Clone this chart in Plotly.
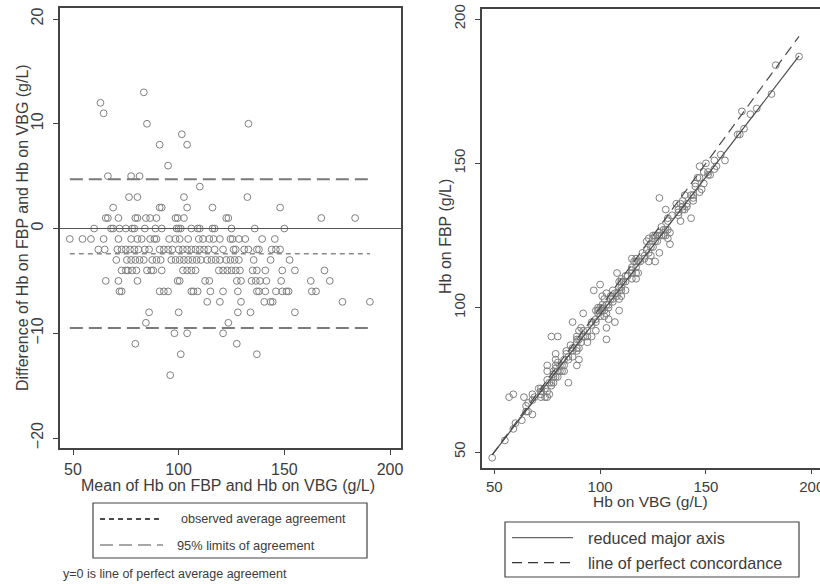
import plotly.graph_objects as go

# ---------------- data ----------------
# Bland-Altman panel: for each difference level (FBP - VBG, g/L) the means (g/L)
diff_levels = [13, 12, 11, 10, 9, 8, 6, 5, 4, 3, 2, 1, 0, -1, -2, -3, -4, -5,
               -6, -7, -8, -9, -10, -11, -12, -14]
means_by_level = [
    [83.5],
    [63],
    [64.5],
    [85, 133],
    [101.5],
    [91, 104],
    [95],
    [66.5, 77.5, 81.5],
    [110],
    [76.5, 80.5, 102.5, 132.5],
    [69, 91, 92, 104, 116, 148],
    [65.5, 66.5, 71.5, 79.5, 80.5, 84.5, 86.5, 89.5, 98.5, 99.5, 102.5, 122.5,
     123.5, 167.5, 183.5],
    [60, 68, 69, 72, 75, 78, 79, 84, 89, 92, 99, 100, 101, 106, 109, 110, 116,
     117, 125, 136, 150],
    [48.5, 54.5, 58.5, 64.5, 71.5, 77.5, 80.5, 82.5, 86.5, 88.5, 89.5, 95.5,
     98.5, 100.5, 104.5, 109.5, 111.5, 114.5, 116.5, 119.5, 124.5, 125.5,
     128.5, 131.5, 139.5, 145.5],
    [62, 65, 71, 73, 75, 77, 79, 81, 84, 86, 91, 93, 95, 97, 100, 102, 104,
     106, 108, 110, 112, 114, 117, 121, 126, 127, 131, 133, 137, 138, 144,
     146, 148],
    [70.5, 75.5, 77.5, 79.5, 81.5, 83.5, 87.5, 89.5, 91.5, 96.5, 98.5, 100.5,
     102.5, 104.5, 106.5, 108.5, 110.5, 113.5, 115.5, 117.5, 119.5, 122.5,
     124.5, 126.5, 128.5, 135.5, 143.5, 152.5],
    [73, 75, 76, 78, 80, 85, 87, 88, 92, 102, 104, 106, 108, 119, 121, 123,
     125, 127, 129, 135, 137, 141, 149, 155, 169],
    [65.5, 71.5, 80.5, 99.5, 100.5, 112.5, 114.5, 127.5, 129.5, 134.5, 136.5,
     138.5, 141.5, 148.5, 162.5, 171.5],
    [72, 73, 91, 93, 95, 106, 107, 109, 115, 121, 128, 137, 138, 141, 146,
     149, 151, 152, 163, 165],
    [113.5, 119.5, 129.5, 140.5, 143.5, 144.5, 177.5, 190.5],
    [86, 100, 128, 134, 155],
    [84.5, 123.5],
    [98, 104, 121],
    [79.5, 127.5],
    [101, 137],
    [96],
]

bias = -2.4          # observed average agreement
loa_upper = 4.7      # 95% limits of agreement
loa_lower = -9.5

# reduced major axis end points (Hb on VBG, Hb on FBP)
rma_vbg = [49, 194]
rma_fbp = [49, 187.2]
# line of perfect concordance
conc_vbg = [49, 194]
conc_fbp = [49, 194]

left_xticks = [50, 100, 150, 200]
left_yticks = [-20, -10, 0, 10, 20]
right_xticks = [50, 100, 150, 200]
right_yticks = [50, 100, 150, 200]

# ---------------- build ----------------
mean_hb, diff_hb = [], []
for d, ms in zip(diff_levels, means_by_level):
    mean_hb += ms
    diff_hb += [d] * len(ms)
vbg = [m - d / 2 for m, d in zip(mean_hb, diff_hb)]
fbp = [m + d / 2 for m, d in zip(mean_hb, diff_hb)]
xmin, xmax = min(mean_hb), max(mean_hb)

W, H = 820, 584
FONT = "Liberation Sans, Arial, sans-serif"
TXT = "#3c3c3c"
MK = dict(symbol="circle-open", size=6.8, color="#808080", line=dict(width=1))

fig = go.Figure()
# left panel
fig.add_trace(go.Scatter(x=mean_hb, y=diff_hb, mode="markers", marker=MK,
                         xaxis="x", yaxis="y", showlegend=False))
fig.add_trace(go.Scatter(x=[43.85, 205.2], y=[0, 0], mode="lines",
                         line=dict(color="#555555", width=1.2),
                         xaxis="x", yaxis="y", showlegend=False))
fig.add_trace(go.Scatter(x=[xmin, xmax], y=[bias, bias], mode="lines",
                         line=dict(color="#8a8a8a", width=1.5, dash="5px,4px"),
                         xaxis="x", yaxis="y", showlegend=False))
for v in (loa_upper, loa_lower):
    fig.add_trace(go.Scatter(x=[xmin, xmax], y=[v, v], mode="lines",
                             line=dict(color="#7a7a7a", width=2, dash="13px,6px"),
                             xaxis="x", yaxis="y", showlegend=False))
# right panel
fig.add_trace(go.Scatter(x=vbg, y=fbp, mode="markers", marker=MK,
                         xaxis="x2", yaxis="y2", showlegend=False))
fig.add_trace(go.Scatter(x=rma_vbg, y=rma_fbp, mode="lines",
                         line=dict(color="#4a4a4a", width=1.2),
                         xaxis="x2", yaxis="y2", showlegend=False))
fig.add_trace(go.Scatter(x=conc_vbg, y=conc_fbp, mode="lines",
                         line=dict(color="#4a4a4a", width=1.2, dash="10px,6px"),
                         xaxis="x2", yaxis="y2", showlegend=False))

axcommon = dict(showgrid=False, zeroline=False, showline=True, automargin=False,
                linecolor="#444444", linewidth=1.6, ticks="outside",
                ticklen=5, tickcolor="#444444", tickwidth=1.2,
                ticklabeloverflow="allow",
                tickfont=dict(family=FONT, color=TXT))

fig.update_layout(
    width=W, height=H, margin=dict(l=0, r=0, t=0, b=0, autoexpand=False),
    paper_bgcolor="white", plot_bgcolor="white", hovermode=False,
    xaxis=dict(axcommon, domain=[60 / W, 401 / W], range=[43.85, 205.2],
               tickvals=left_xticks, mirror=True, anchor="y",
               tickfont=dict(family=FONT, color=TXT, size=16),
               ticklabelstandoff=1),
    yaxis=dict(axcommon, domain=[1 - 448.3 / H, 1 - 8 / H], range=[-20.98, 21.05],
               tickvals=left_yticks, mirror=True, anchor="x", tickangle=-90,
               tickfont=dict(family=FONT, color=TXT, size=16),
               ticklabelstandoff=4),
    xaxis2=dict(axcommon, domain=[481.7 / W, 1.0], range=[44.05, 203.9],
                tickvals=right_xticks, mirror=True, anchor="y2", ticklen=4,
                tickfont=dict(family=FONT, color=TXT, size=15),
                ticklabelstandoff=0),
    yaxis2=dict(axcommon, domain=[1 - 467.7 / H, 1 - 9.3 / H], range=[44.56, 203.36],
                tickvals=right_yticks, mirror=False, anchor="x2", tickangle=-90,
                tickfont=dict(family=FONT, color=TXT, size=15),
                ticklabelstandoff=4),
)

def px(x):
    return x / W

def py(y):
    return 1 - y / H

shapes = [
    # left legend box
    dict(type="rect", xref="paper", yref="paper", x0=px(93), x1=px(367),
         y0=py(558), y1=py(503), line=dict(color="#444444", width=1.2)),
    dict(type="line", xref="paper", yref="paper", x0=px(100), x1=px(163),
         y0=py(519), y1=py(519), line=dict(color="#111111", width=1.3, dash="5px,4px")),
    dict(type="line", xref="paper", yref="paper", x0=px(100), x1=px(163),
         y0=py(545), y1=py(545), line=dict(color="#8a8a8a", width=1.5, dash="13px,6px")),
    # right legend box
    dict(type="rect", xref="paper", yref="paper", x0=px(505), x1=px(799),
         y0=py(577), y1=py(522), line=dict(color="#444444", width=1.2)),
    dict(type="line", xref="paper", yref="paper", x0=px(512), x1=px(573),
         y0=py(537.7), y1=py(537.7), line=dict(color="#666666", width=1.2)),
    dict(type="line", xref="paper", yref="paper", x0=px(512), x1=px(573),
         y0=py(562.7), y1=py(562.7), line=dict(color="#333333", width=1.2, dash="10px,6px")),
]

def ann(text, x, y, size, xanchor="left", angle=0):
    return dict(text=text, x=px(x), y=py(y), xref="paper", yref="paper",
                xanchor=xanchor, yanchor="middle", showarrow=False,
                textangle=angle, font=dict(family=FONT, size=size, color=TXT))

annotations = [
    ann("Mean of Hb on FBP and Hb on VBG (g/L)", 228, 485, 16, "center"),
    ann("Difference of Hb on FBP and Hb on VBG (g/L)", 22, 228, 16, "center", -90),
    ann("Hb on VBG (g/L)", 650, 501, 15.5, "center"),
    ann("Hb on FBP (g/L)", 445, 237, 16, "center", -90),
    ann("observed average agreement", 179, 519, 12.6),
    ann("95% limits of agreement", 175, 545, 12.8),
    ann("reduced major axis", 586, 537.7, 16.2),
    ann("line of perfect concordance", 586, 562.7, 16.2),
    ann("y=0 is line of perfect average agreement", 61, 574, 12.5),
]

fig.update_layout(shapes=shapes, annotations=annotations)
fig.write_html("out.html", config={"displayModeBar": False},
               post_script="document.body.style.margin='0';"
                           "document.body.style.overflow='hidden';")
